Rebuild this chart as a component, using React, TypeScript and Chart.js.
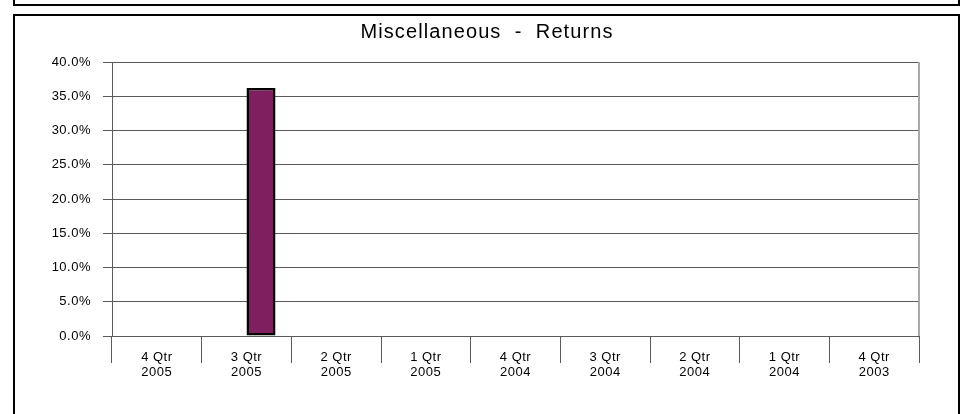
import React, { useEffect, useRef } from "react";
import { Chart, registerables } from "chart.js";

Chart.register(...registerables);

const categories: string[][] = [
  ["4 Qtr", "2005"],
  ["3 Qtr", "2005"],
  ["2 Qtr", "2005"],
  ["1 Qtr", "2005"],
  ["4 Qtr", "2004"],
  ["3 Qtr", "2004"],
  ["2 Qtr", "2004"],
  ["1 Qtr", "2004"],
  ["4 Qtr", "2003"],
];
const seriesA: (number | null)[] = [null, null, null, null, null, null, null, null, null];
const seriesB: (number | null)[] = [null, 36.2, null, null, null, null, null, null, null];
const yMin = 0;
const yMax = 40;
const yStep = 5;
const titleText = "Miscellaneous  -  Returns";

const FONT = "'Liberation Sans', Arial, Helvetica, sans-serif";
const GRID = "#595959";

const spacingPlugin = {
  id: "spacing",
  beforeUpdate(chart: any) {
    chart.ctx.letterSpacing = "0.5px";
  },
  beforeDraw(chart: any) {
    chart.ctx.letterSpacing = "0.5px";
  },
};

const decorPlugin = {
  id: "decor",
  afterDraw(chart: any) {
    const { ctx, chartArea } = chart;
    ctx.save();
    ctx.strokeStyle = "#aaaaaa";
    ctx.lineWidth = 2;
    ctx.beginPath();
    ctx.moveTo(chartArea.right, chartArea.top);
    ctx.lineTo(chartArea.right, chartArea.bottom);
    ctx.stroke();
    ctx.restore();

    ctx.save();
    ctx.letterSpacing = "1.1px";
    ctx.font = `20px ${FONT}`;
    ctx.fillStyle = "#000";
    ctx.textAlign = "center";
    ctx.textBaseline = "alphabetic";
    ctx.fillText(titleText, 487, 38);
    ctx.restore();
  },
};

function ChartView() {
  const ref = useRef<HTMLCanvasElement | null>(null);
  useEffect(() => {
    if (!ref.current) return;
    const chart = new Chart(ref.current, {
      type: "bar",
      data: {
        labels: categories,
        datasets: [
          {
            label: "Series A",
            data: seriesA,
            backgroundColor: "#3f3f9f",
            borderColor: "#000",
            borderWidth: 2,
            borderSkipped: false,
            categoryPercentage: 0.647,
            barPercentage: 1,
          },
          {
            label: "Series B",
            data: seriesB,
            backgroundColor: "#7F1F5F",
            borderColor: "#000",
            borderWidth: 2.5,
            borderSkipped: false,
            categoryPercentage: 0.647,
            barPercentage: 1,
          },
        ],
      },
      options: {
        responsive: false,
        animation: false,
        devicePixelRatio: 1,
        layout: { padding: { top: 62, right: 46, bottom: 0, left: 0 } },
        plugins: {
          legend: { display: false },
          tooltip: { enabled: false },
          title: { display: false },
        },
        scales: {
          x: {
            grid: {
              display: true,
              drawOnChartArea: false,
              drawTicks: true,
              tickLength: 27,
              color: GRID,
              offset: true,
            },
            border: { display: true, color: GRID },
            ticks: {
              color: "#000",
              font: { family: FONT, size: 13, lineHeight: 1.13 },
              padding: -13,
              maxRotation: 0,
              autoSkip: false,
            },
            afterFit(s: any) {
              s.height = 78;
            },
          },
          y: {
            min: yMin,
            max: yMax,
            grid: { color: GRID, tickLength: 9 },
            border: { display: true, color: GRID },
            ticks: {
              stepSize: yStep,
              color: "#000",
              font: { family: FONT, size: 13 },
              padding: 12,
              callback: (v: any) => Number(v).toFixed(1) + "%",
            },
            afterFit(s: any) {
              s.width = 112;
            },
          },
        },
      },
      plugins: [spacingPlugin, decorPlugin],
    } as any);
    return () => chart.destroy();
  }, []);
  return (
    <canvas
      ref={ref}
      width={965}
      height={414}
      style={{ position: "absolute", left: 0, top: 0, display: "block", width: 965, height: 414 }}
    />
  );
}

export default function App() {
  return (
    <div
      style={{
        position: "fixed",
        left: 0,
        top: 0,
        width: 965,
        height: 414,
        background: "#fff",
        overflow: "hidden",
      }}
    >
      <div
        style={{
          position: "absolute",
          left: 13,
          top: -20,
          width: 947,
          height: 26,
          boxSizing: "border-box",
          border: "2px solid #000",
        }}
      />
      <div
        style={{
          position: "absolute",
          left: 13,
          top: 14,
          width: 947,
          height: 420,
          boxSizing: "border-box",
          border: "2px solid #000",
        }}
      />
      <ChartView />
    </div>
  );
}
